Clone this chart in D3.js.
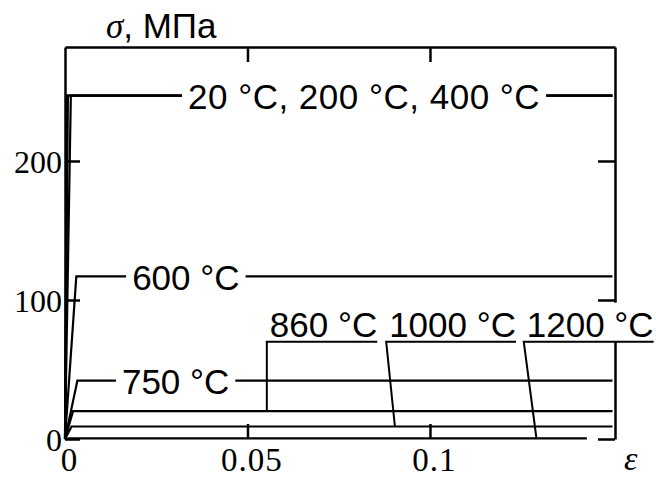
<!DOCTYPE html>
<html>
<head>
<meta charset="utf-8">
<script src="https://cdn.jsdelivr.net/npm/d3@7"></script>
<style>
  body { margin: 0; background: #fff; }
  svg { display: block; }
  .sans { font-family: "Liberation Sans", Arial, sans-serif; }
  .serif { font-family: "Liberation Serif", "Times New Roman", serif; }
</style>
</head>
<body>
<svg id="chart"></svg>
<script>
const WIDTH = 656;
const HEIGHT = 479;
const margin = {top: 47, right: 41, bottom: 40, left: 65};

// curves: elastic line up to yield, then flat
const temps = ['20 °C', '200 °C', '400 °C', '600 °C', '750 °C', '860 °C', '1000 °C', '1200 °C'];
const yieldStrain = [0.0005, 0.0008, 0.0016, 0.0031, 0.0034, 0.0022, 0.0018, 0.0010];
const yieldStress = [247, 247, 247, 117, 42, 20, 9, 0.4];
const endStrain = [0.150, 0.150, 0.150, 0.150, 0.150, 0.150, 0.150, 0.143];

// labels sitting on a line (text breaks the line)
const inlineLabels = ['20 °C, 200 °C, 400 °C', '600 °C', '750 °C'];
const inlineStrain = [0.0337, 0.0184, 0.0156];
const inlineStress = [247, 117, 42];

// underlined labels with a leader to the curve
const leaderLabels = ['860 °C', '1000 °C', '1200 °C'];
const leaderStartStrain = [0.0553, 0.0880, 0.1257];
const leaderEndStrain = [0.0553, 0.0904, 0.1292];
const leaderEndStress = [20, 9, 0];
const leaderLabelStress = 70;

const xTicks = [0, 0.05, 0.1];
const yTicks = [0, 100, 200];

const svg = d3.select('#chart')
  .attr('width', WIDTH)
  .attr('height', HEIGHT);

const x = d3.scaleLinear().domain([0, 0.1507]).range([margin.left, WIDTH - margin.right]);
const y = d3.scaleLinear().domain([0, 282]).range([HEIGHT - margin.bottom, margin.top]);

//    Axes    ////////////////////////////////////////////
const axisLeft = svg.append('g')
  .attr('transform', `translate(${margin.left},0)`)
  .call(d3.axisLeft(y).tickValues(yTicks).tickSize(-15).tickSizeOuter(0).tickPadding(3));

const axisRight = svg.append('g')
  .attr('transform', `translate(${WIDTH - margin.right},0)`)
  .call(d3.axisRight(y).tickValues(yTicks).tickSize(-17).tickSizeOuter(0).tickFormat(''));

const axisTop = svg.append('g')
  .attr('transform', `translate(0,${margin.top})`)
  .call(d3.axisTop(x).tickValues(xTicks.slice(1)).tickSize(-15).tickSizeOuter(0).tickFormat(''));

const axisBottom = svg.append('g')
  .attr('transform', `translate(0,${HEIGHT - margin.bottom})`)
  .call(d3.axisBottom(x).tickValues(xTicks).tickSize(-15).tickFormat(d => d === 0 ? '0' : d3.format('')(d)));
axisBottom.select('.domain').remove();

svg.selectAll('.domain').attr('stroke', '#000').attr('stroke-width', 2.5);
svg.selectAll('.tick line').attr('stroke', '#000').attr('stroke-width', 2.5);

axisLeft.selectAll('text')
  .attr('class', 'serif')
  .style('font-size', '32px')
  .attr('fill', '#000')
  .attr('dy', '0.36em');

axisBottom.selectAll('text')
  .attr('class', 'serif')
  .style('font-size', '33px')
  .style('letter-spacing', '1px')
  .attr('fill', '#000')
  .attr('y', 32)
  .attr('dy', 0)
  .attr('dx', 4);

svg.selectAll('g').attr('font-family', null).attr('font-size', null);

//    Curves    ////////////////////////////////////////////
const line = d3.line().x(d => x(d[0])).y(d => y(d[1]));

svg.append('g').selectAll('path')
  .data(temps.map((t, i) => [[0, 0], [yieldStrain[i], yieldStress[i]], [endStrain[i], yieldStress[i]]]))
  .enter().append('path')
  .attr('d', line)
  .attr('fill', 'none')
  .attr('stroke', '#000')
  .attr('stroke-width', 2.2);

//    Inline labels    ////////////////////////////////////////////
inlineLabels.forEach((lab, i) => {
  const g = svg.append('g');
  const t = g.append('text')
    .attr('class', 'sans')
    .style('font-size', '35px')
    .style('letter-spacing', i === 0 ? '0.5px' : null)
    .attr('x', x(inlineStrain[i]))
    .attr('y', y(inlineStress[i]))
    .attr('dy', '0.38em')
    .text(lab);
  const bb = t.node().getBBox();
  g.insert('rect', 'text')
    .attr('x', bb.x - 6).attr('y', bb.y)
    .attr('width', bb.width + 12).attr('height', bb.height)
    .attr('fill', '#fff');
});

//    Leader labels    ////////////////////////////////////////////
leaderLabels.forEach((lab, i) => {
  const g = svg.append('g');
  const x0 = x(leaderStartStrain[i]);
  const yl = y(leaderLabelStress);
  const t = g.append('text')
    .attr('class', 'sans')
    .style('font-size', '35px')
    .attr('x', x0 + 3)
    .attr('y', yl - 5)
    .text(lab);
  const bb = t.node().getBBox();
  g.insert('rect', 'text')
    .attr('x', bb.x - 2).attr('y', bb.y - 2)
    .attr('width', bb.width + 4).attr('height', bb.height)
    .attr('fill', '#fff');
  g.append('path')
    .attr('d', `M${x0 + 1 + bb.width + 2},${yl}H${x0}L${x(leaderEndStrain[i])},${y(leaderEndStress[i])}`)
    .attr('fill', 'none')
    .attr('stroke', '#000')
    .attr('stroke-width', 2);
});

//    Axis titles    ////////////////////////////////////////////
const title = svg.append('text')
  .attr('x', 106)
  .attr('y', 38)
  .style('font-size', '35px');
title.append('tspan').attr('class', 'serif').style('font-style', 'italic').text('σ');
title.append('tspan').attr('class', 'sans').text(', МПа');

svg.append('text')
  .attr('class', 'serif')
  .style('font-style', 'italic')
  .style('font-size', '34px')
  .attr('x', x.range()[1] + 9)
  .attr('y', 470)
  .text('ε');
</script>
</body>
</html>
